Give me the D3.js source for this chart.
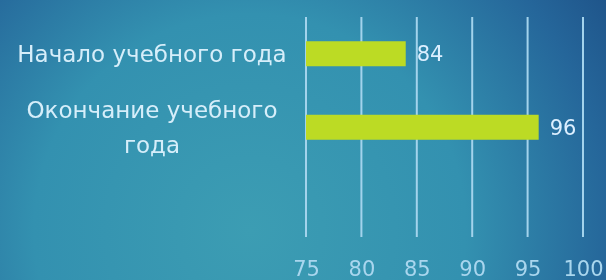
<!DOCTYPE html>
<html>
<head>
<meta charset="utf-8">
<script src="https://cdn.jsdelivr.net/npm/d3@7"></script>
<style>
  html, body { margin: 0; padding: 0; overflow: hidden; }
  svg { display: block; }
</style>
</head>
<body>
<div class="container"></div>
<script>
const categories = ['Начало учебного года', 'Окончание учебного года'];
const categoryLines = [['Начало учебного года'], ['Окончание учебного', 'года']];
const values = [84, 96];
const tickValues = [75, 80, 85, 90, 95, 100];

const w = 606, h = 280;
const padding = { top: 17, bottom: 43, left: 306, right: 23 };

const svg = d3.select('div.container')
    .append('svg')
    .attr('width', w)
    .attr('height', h);

const defs = svg.append('defs');
const bg = defs.append('radialGradient')
    .attr('id', 'bg')
    .attr('gradientUnits', 'userSpaceOnUse')
    .attr('cx', 250).attr('cy', 230).attr('r', 480);
bg.append('stop').attr('offset', '0').attr('stop-color', '#3c9db3');
bg.append('stop').attr('offset', '0.45').attr('stop-color', '#3391b0');
bg.append('stop').attr('offset', '0.75').attr('stop-color', '#25669a');
bg.append('stop').attr('offset', '1').attr('stop-color', '#1a467d');

// soft glow, region in user space (generous, groups may be translated)
const glow = defs.append('filter').attr('id', 'soft')
    .attr('filterUnits', 'userSpaceOnUse')
    .attr('x', -100).attr('y', -400).attr('width', w + 200).attr('height', h + 800);
glow.append('feGaussianBlur').attr('stdDeviation', 0.7);

svg.append('rect')
    .attr('width', w)
    .attr('height', h)
    .attr('fill', 'url(#bg)');

const xScale = d3.scaleLinear()
    .domain([75, 100])
    .range([padding.left, w - padding.right]);

const yScale = d3.scaleBand()
    .domain(categories)
    .range([padding.top, padding.top + 147])
    .paddingInner(0.66)
    .paddingOuter(0.33);

// grid lines
svg.append('g')
    .selectAll('line')
    .data(tickValues)
    .enter()
    .append('line')
    .attr('x1', d => xScale(d))
    .attr('x2', d => xScale(d))
    .attr('y1', padding.top)
    .attr('y2', h - padding.bottom)
    .attr('stroke', '#a3d3ec')
    .attr('stroke-width', 2)
    .attr('filter', 'url(#soft)');

// bars
svg.append('g')
    .selectAll('rect')
    .data(values)
    .enter()
    .append('rect')
    .attr('x', xScale(75))
    .attr('y', (d, i) => yScale(categories[i]))
    .attr('width', d => xScale(d) - xScale(75))
    .attr('height', yScale.bandwidth())
    .attr('fill', '#bcdb24');

// value labels
svg.append('g')
    .selectAll('text')
    .data(values)
    .enter()
    .append('text')
    .attr('x', d => xScale(d) + 11)
    .attr('y', (d, i) => yScale(categories[i]) + yScale.bandwidth() / 2)
    .attr('dy', '0.35em')
    .attr('fill', '#dcefff')
    .attr('font-family', 'DejaVu Sans')
    .attr('font-size', 21)
    .attr('filter', 'url(#soft)')
    .text(d => d);

// category labels
const catG = svg.append('g');
categoryLines.forEach((lines, i) => {
    const cy = yScale(categories[i]) + yScale.bandwidth() / 2;
    const lh = 35;
    lines.forEach((line, j) => {
        catG.append('text')
            .attr('x', 152)
            .attr('y', cy + (j - (lines.length - 1) / 2) * lh)
            .attr('dy', '0.35em')
            .attr('text-anchor', 'middle')
            .attr('fill', '#d6eefa')
            .attr('font-family', 'DejaVu Sans')
            .attr('font-size', 23)
            .attr('filter', 'url(#soft)')
            .text(line);
    });
});

// x axis
const xAxis = d3.axisBottom(xScale)
    .tickValues(tickValues)
    .tickSize(0)
    .tickPadding(0);

const axisG = svg.append('g')
    .attr('transform', 'translate(0,' + (h - 11) + ')')
    .call(xAxis);
axisG.select('.domain').remove();
axisG.selectAll('text')
    .attr('fill', '#a9d6ee')
    .attr('font-family', 'DejaVu Sans')
    .attr('font-size', 21)
    .attr('dy', '0.35em')
    .attr('filter', 'url(#soft)');
</script>
</body>
</html>
